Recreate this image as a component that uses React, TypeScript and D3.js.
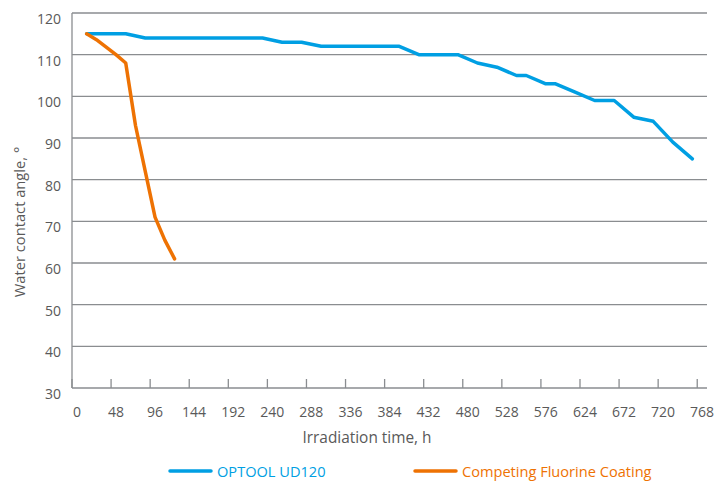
import { useMemo } from 'react';
import * as d3 from 'd3';

// OPTOOL UD120 readings (hours, contact angle)
const optoolHours = [12, 36, 60, 84, 108, 132, 156, 180, 204, 228, 252, 276, 300, 324, 348, 372, 396, 420, 444, 468, 492, 516, 540, 552, 576, 588, 612, 636, 660, 684, 708, 732, 756];
const optoolAngle = [115, 115, 115, 114, 114, 114, 114, 114, 114, 114, 113, 113, 112, 112, 112, 112, 112, 110, 110, 110, 108, 107, 105, 105, 103, 103, 101, 99, 99, 95, 94, 89, 85];

// Competing fluorine coating readings
const competingHours = [12, 24, 36, 48, 60, 72, 84, 96, 108, 120];
const competingAngle = [115, 113.6, 111.8, 110, 108, 93, 82, 71, 65.5, 61];

const xTickLabels = [0, 48, 96, 144, 192, 240, 288, 336, 384, 432, 480, 528, 576, 624, 672, 720, 768];
const yTickLabels = [30, 40, 50, 60, 70, 80, 90, 100, 110, 120];

const BLUE = '#009fe3';
const ORANGE = '#ee7203';
const GRID = '#8a8d90';
const TEXT = '#595959';
const FONT = "'Open Sans', 'Noto Sans', sans-serif";

type Pt = { t: number; v: number };

export default function App() {
  const width = 715;
  const height = 482;

  const x = useMemo(() => d3.scaleLinear().domain([-6, 774]).range([72, 707]), []);
  const y = useMemo(() => d3.scaleLinear().domain([30, 120]).range([388, 13]), []);

  const line = d3.line<Pt>()
    .x(d => x(d.t))
    .y(d => y(d.v));

  const optool: Pt[] = optoolHours.map((t, i) => ({ t, v: optoolAngle[i] }));
  const competing: Pt[] = competingHours.map((t, i) => ({ t, v: competingAngle[i] }));

  const [x0, x1] = x.range();

  return (
    <div style={{ position: 'absolute', left: 0, top: 0, width, height, background: '#fff' }}>
      <svg width={width} height={height} style={{ display: 'block', fontFamily: FONT }}>
        {/* gridlines */}
        {yTickLabels.filter(v => v > 30).map(v => (
          <line key={v} x1={x0} x2={x1} y1={y(v)} y2={y(v)} stroke={GRID} strokeWidth={1.3} />
        ))}
        {/* axes */}
        <line x1={x0} x2={x0} y1={y(120)} y2={y(30)} stroke={GRID} strokeWidth={1.3} />
        <line x1={x0} x2={x1} y1={y(30)} y2={y(30)} stroke={GRID} strokeWidth={1.3} />
        {xTickLabels.map(t => (
          <line key={t} x1={x(t - 6)} x2={x(t - 6)} y1={y(30)} y2={y(30) - 9} stroke={GRID} strokeWidth={1.3} />
        ))}

        {/* tick labels */}
        {yTickLabels.map(v => (
          <text key={v} x={61} y={y(v) + 11} textAnchor="end" fontSize={14} fill={TEXT}>{v}</text>
        ))}
        {xTickLabels.map(t => (
          <text key={t} x={x(t)} y={417} textAnchor="middle" fontSize={14} fill={TEXT}>{t}</text>
        ))}

        {/* axis titles */}
        <text x={367} y={443} textAnchor="middle" fontSize={15.4} fill={TEXT}>Irradiation time, h</text>
        <text transform="translate(25,222) rotate(-90)" textAnchor="middle" fontSize={14.7} fill={TEXT}>Water contact angle, °</text>

        {/* series */}
        <path d={line(optool) ?? ''} fill="none" stroke={BLUE} strokeWidth={3.5} strokeLinejoin="round" strokeLinecap="round" />
        <path d={line(competing) ?? ''} fill="none" stroke={ORANGE} strokeWidth={3.5} strokeLinejoin="round" strokeLinecap="round" />

        {/* legend */}
        <line x1={170} x2={211} y1={471} y2={471} stroke={BLUE} strokeWidth={3.5} strokeLinecap="round" />
        <text x={217} y={477} fontSize={14.6} fill={BLUE}>OPTOOL UD120</text>
        <line x1={415} x2={456} y1={471} y2={471} stroke={ORANGE} strokeWidth={3.5} strokeLinecap="round" />
        <text x={462} y={477} fontSize={14.6} fill={ORANGE}>Competing Fluorine Coating</text>
      </svg>
    </div>
  );
}
